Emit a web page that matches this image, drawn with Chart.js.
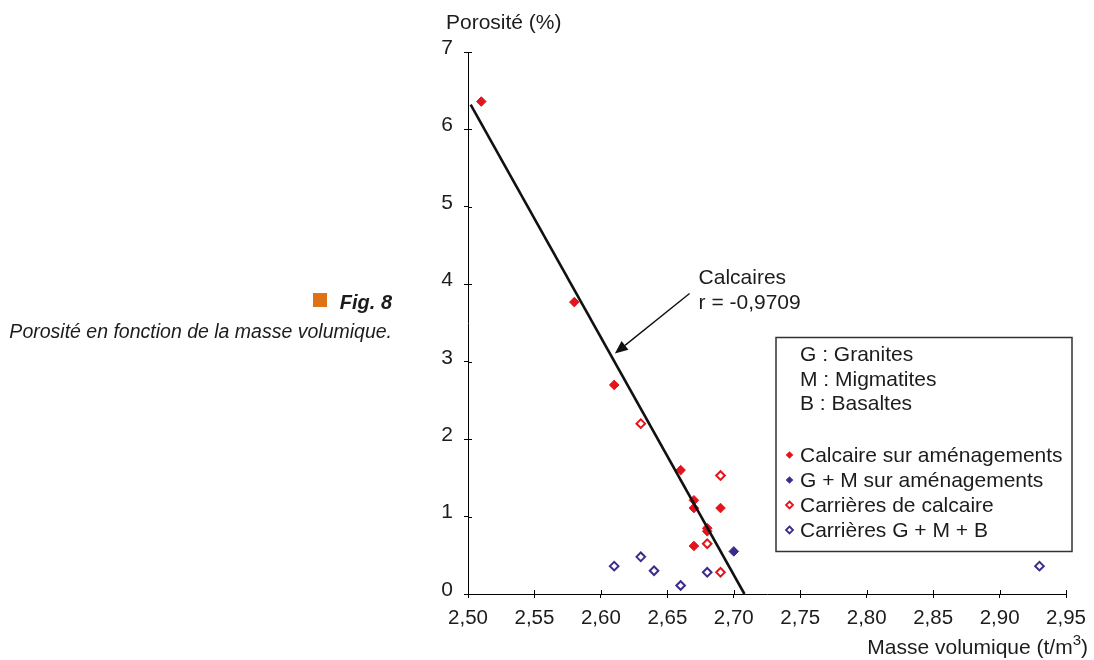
<!DOCTYPE html>
<html><head><meta charset="utf-8">
<script src="https://cdn.jsdelivr.net/npm/chart.js@4/dist/chart.umd.min.js"></script>
<style>html,body{margin:0;padding:0;background:#fff}#wrap{width:1094px;height:660px;position:relative}</style>
</head><body><div id="wrap"><canvas id="c"></canvas></div>
<script>
// ---- Data ----
const calcaireAmenagX = [2.51, 2.58, 2.61, 2.66, 2.67, 2.67, 2.69, 2.68, 2.68, 2.67];
const calcaireAmenagY = [6.36, 3.77, 2.70, 1.60, 1.21, 1.11, 1.11, 0.85, 0.81, 0.62];
const gmAmenagX = [2.70];
const gmAmenagY = [0.55];
const carrCalcX = [2.63, 2.69, 2.68, 2.69];
const carrCalcY = [2.20, 1.53, 0.65, 0.28];
const carrGMBX = [2.61, 2.63, 2.64, 2.66, 2.68, 2.93];
const carrGMBY = [0.36, 0.48, 0.30, 0.11, 0.28, 0.36];
const regressionX = [2.502, 2.708];
const regressionY = [6.32, 0];
const xTickValues = [2.50, 2.55, 2.60, 2.65, 2.70, 2.75, 2.80, 2.85, 2.90, 2.95];
const yTickValues = [0, 1, 2, 3, 4, 5, 6, 7];
const seriesLabels = ["Calcaire sur aménagements", "G + M sur aménagements", "Carrières de calcaire", "Carrières G + M + B"];
const legendNotes = ["G : Granites", "M : Migmatites", "B : Basaltes"];
const xTitle = "Masse volumique (t/m";
const xTitleSup = "3";
const yTitle = "Porosité (%)";
const annotLines = ["Calcaires", "r = -0,9709"];
const figTitle = "Fig. 8";
const figCaption = "Porosité en fonction de la masse volumique.";

const RED = '#e3141c', BLUE = '#3a2c8c', TXT = '#1c1c1c';
const FONT = '"Liberation Sans", Arial, Helvetica, sans-serif';
const pts = (xs, ys) => xs.map((x, i) => ({x, y: ys[i]}));

const filled = c => ({pointStyle:'rectRot', pointRadius:4.8, pointHoverRadius:4.8, backgroundColor:c, borderColor:c, borderWidth:1, showLine:false, legendMark:'filled'});
const open = c => ({pointStyle:'rectRot', pointRadius:4.3, pointHoverRadius:4.3, backgroundColor:'#fff', borderColor:c, borderWidth:2, showLine:false, legendMark:'open'});

const datasets = [
  Object.assign({label: seriesLabels[0], data: pts(calcaireAmenagX, calcaireAmenagY), order: 2}, filled(RED)),
  Object.assign({label: seriesLabels[1], data: pts(gmAmenagX, gmAmenagY), order: 2}, filled(BLUE)),
  Object.assign({label: seriesLabels[2], data: pts(carrCalcX, carrCalcY), order: 2}, open(RED)),
  Object.assign({label: seriesLabels[3], data: pts(carrGMBX, carrGMBY), order: 2}, open(BLUE)),
  {label: 'Calcaires', data: pts(regressionX, regressionY), showLine: true, pointRadius: 0, borderColor: '#111', borderWidth: 2.6, order: 1, noLegend: true}
];

function innerTicks(chart) {
  const {ctx, chartArea: a, scales: {x, y}} = chart;
  ctx.save(); ctx.strokeStyle = '#000'; ctx.lineWidth = 1;
  ctx.beginPath();
  xTickValues.forEach(v => { const p = Math.round(x.getPixelForValue(v)) + 0.5; ctx.moveTo(p, a.bottom); ctx.lineTo(p, a.bottom - 4); });
  yTickValues.forEach(v => { const p = Math.round(y.getPixelForValue(v)) + 0.5; ctx.moveTo(a.left, p); ctx.lineTo(a.left + 4, p); });
  ctx.stroke(); ctx.restore();
}

function drawDiamond(ctx, cx, cy, r, fill, stroke, lw) {
  ctx.beginPath(); ctx.moveTo(cx, cy - r); ctx.lineTo(cx + r, cy); ctx.lineTo(cx, cy + r); ctx.lineTo(cx - r, cy); ctx.closePath();
  ctx.fillStyle = fill; ctx.fill();
  if (lw) { ctx.lineWidth = lw; ctx.strokeStyle = stroke; ctx.stroke(); }
}

const extras = {
  id: 'extras',
  afterDraw(chart) {
    innerTicks(chart);
    const {ctx, scales: {x, y}} = chart;
    ctx.save();
    ctx.fillStyle = TXT;
    // y title
    ctx.font = '21px ' + FONT; ctx.textAlign = 'left'; ctx.textBaseline = 'alphabetic';
    ctx.fillText(yTitle, 446, 29);
    // x title with superscript
    ctx.font = '21px ' + FONT;
    const wMain = ctx.measureText(xTitle).width, wClose = ctx.measureText(')').width;
    ctx.font = '15px ' + FONT;
    const wSup = ctx.measureText(xTitleSup).width;
    const right = 1088, base = 654;
    const x0 = right - wClose - wSup - wMain;
    ctx.font = '21px ' + FONT; ctx.fillText(xTitle, x0, base);
    ctx.font = '15px ' + FONT; ctx.fillText(xTitleSup, x0 + wMain, base - 9);
    ctx.font = '21px ' + FONT; ctx.fillText(')', x0 + wMain + wSup, base);
    // Annotation text and arrow
    const tx = x.getPixelForValue(2.6735);
    ctx.font = '21px ' + FONT;
    ctx.fillText(annotLines[0], tx, y.getPixelForValue(4.01));
    ctx.fillText(annotLines[1], tx, y.getPixelForValue(3.68));
    const ax0 = x.getPixelForValue(2.6667), ay0 = y.getPixelForValue(3.88);
    const ax1 = x.getPixelForValue(2.6105), ay1 = y.getPixelForValue(3.106);
    const ang = Math.atan2(ay1 - ay0, ax1 - ax0), L = 13, W = 5.5;
    const bx = ax1 - L * Math.cos(ang), by = ay1 - L * Math.sin(ang);
    ctx.strokeStyle = '#111'; ctx.lineWidth = 1.4;
    ctx.beginPath(); ctx.moveTo(ax0, ay0); ctx.lineTo(bx, by); ctx.stroke();
    ctx.fillStyle = '#111';
    ctx.beginPath(); ctx.moveTo(ax1, ay1);
    ctx.lineTo(bx + W * Math.sin(ang), by - W * Math.cos(ang));
    ctx.lineTo(bx - W * Math.sin(ang), by + W * Math.cos(ang));
    ctx.closePath(); ctx.fill();
    // Legend box
    ctx.strokeStyle = '#333'; ctx.lineWidth = 1.5;
    ctx.strokeRect(776, 337.5, 296, 214);
    ctx.fillStyle = TXT; ctx.font = '21px ' + FONT; ctx.textAlign = 'left';
    legendNotes.forEach((t, i) => ctx.fillText(t, 800, 361 + 24.5 * i));
    chart.data.datasets.filter(d => !d.noLegend).forEach((d, i) => {
      const by2 = 462 + 25 * i;
      if (d.legendMark === 'filled') drawDiamond(ctx, 789.5, by2 - 7, 3.8, d.backgroundColor, d.borderColor, 0);
      else drawDiamond(ctx, 789.5, by2 - 7, 3.5, '#fff', d.borderColor, 1.8);
      ctx.fillStyle = TXT; ctx.fillText(d.label, 800, by2);
    });
    // Figure caption
    ctx.fillStyle = '#e07216'; ctx.fillRect(313, 293, 14, 14);
    ctx.fillStyle = TXT; ctx.textAlign = 'right';
    ctx.font = 'italic bold 20px ' + FONT; ctx.fillText(figTitle, 392, 309);
    ctx.font = 'italic 19.5px ' + FONT; ctx.fillText(figCaption, 392, 338);
    ctx.restore();
  }
};

new Chart(document.getElementById('c'), {
  type: 'scatter',
  data: {datasets},
  options: {
    responsive: true, maintainAspectRatio: false, animation: false,
    layout: {padding: {top: 52, right: 26, left: 0, bottom: 0}},
    plugins: {legend: {display: false}, tooltip: {enabled: false}},
    scales: {
      x: {
        type: 'linear', min: 2.5, max: 2.95,
        afterBuildTicks: s => { s.ticks = xTickValues.map(v => ({value: v})); },
        afterFit: s => { s.height = 66; },
        grid: {drawOnChartArea: false, drawTicks: true, tickLength: 4, color: '#000'},
        border: {color: '#000', width: 1},
        ticks: {color: TXT, font: {family: FONT, size: 20.5}, padding: 8, maxRotation: 0, autoSkip: false,
          callback: v => v.toFixed(2).replace('.', ',')}
      },
      y: {
        type: 'linear', min: 0, max: 7,
        afterBuildTicks: s => { s.ticks = yTickValues.map(v => ({value: v})); },
        afterFit: s => { s.width = 468; },
        grid: {drawOnChartArea: false, drawTicks: true, tickLength: 4, color: '#000'},
        border: {color: '#000', width: 1},
        ticks: {color: TXT, font: {family: FONT, size: 21}, padding: 11, autoSkip: false, labelOffset: -4,
          callback: v => String(v)}
      }
    }
  },
  plugins: [extras]
});
</script>
</body></html>
